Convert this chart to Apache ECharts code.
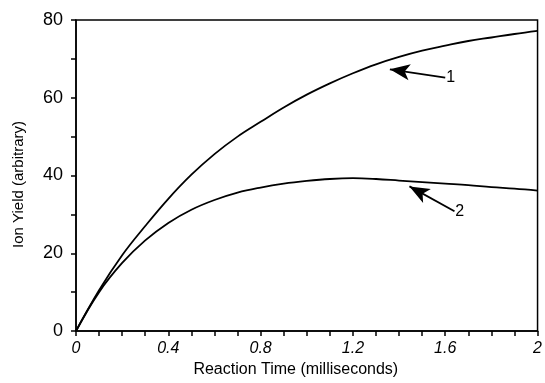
<!DOCTYPE html>
<html>
  <head>
    <meta charset="utf-8" />
    <title>Ion Yield</title>
    <style>
      * {
        margin: 0;
        padding: 0;
      }

      #chart-container {
        position: relative;
        width: 545px;
        height: 383px;
        overflow: hidden;
        background: #fff;
      }
    </style>
  </head>

  <body>
    <div id="chart-container"></div>
    <script src="https://cdn.jsdelivr.net/npm/echarts@6/dist/echarts.min.js"></script>
    <script>
      // reaction time (ms)
      var times = [0, 0.1, 0.2, 0.3, 0.4, 0.5, 0.6, 0.7, 0.8, 0.9, 1.0,
                   1.1, 1.2, 1.3, 1.4, 1.5, 1.6, 1.7, 1.8, 1.9, 2.0];
      var curve1 = [0, 10.5, 19.5, 27, 34, 40.2, 45.5, 50, 53.8, 57.5, 60.8,
                    63.7, 66.3, 68.6, 70.5, 72.1, 73.4, 74.6, 75.5, 76.4, 77.2];
      var curve2 = [0, 10, 17.5, 23.3, 27.8, 31.2, 33.7, 35.6, 36.9, 37.9, 38.6,
                    39.1, 39.3, 39.1, 38.7, 38.3, 37.9, 37.5, 37.0, 36.6, 36.1];

      // arrow annotations: [label, tail x, tail y, tip x, tip y]
      var arrow1 = ["1", 1.6, 65.2, 1.36, 67.3];
      var arrow2 = ["2", 1.64, 30.8, 1.445, 37.2];

      function pairs(xs, ys) {
        return xs.map(function (x, i) {
          return [x, ys[i]];
        });
      }

      function arrowLine(a) {
        return [
          { coord: [a[1], a[2]], label: { show: true, formatter: a[0] } },
          { coord: [a[3], a[4]] },
        ];
      }

      var font = "'Liberation Sans', Arial, sans-serif";

      var markStyle = {
        silent: true,
        symbol: ["none", "arrow"],
        symbolSize: [12, 20],
        lineStyle: { color: "#000", width: 1.8, type: "solid" },
        label: {
          position: "start",
          color: "#000",
          fontSize: 16,
          fontFamily: font,
          distance: 1,
        },
      };

      var dom = document.getElementById("chart-container");
      var myChart = echarts.init(dom, null, { renderer: "canvas" });

      var option = {
        animation: false,
        grid: {
          left: 76,
          right: 3,
          top: 20,
          bottom: 49,
          show: true,
          borderColor: "#000",
          borderWidth: 1.5,
        },
        xAxis: {
          type: "value",
          min: 0,
          max: 2,
          interval: 0.4,
          name: "Reaction Time (milliseconds)",
          nameLocation: "middle",
          nameGap: 31,
          nameTextStyle: { color: "#000", fontSize: 16, fontFamily: font, padding: [0, 22, 0, 0] },
          axisLine: { lineStyle: { color: "#000", width: 1.5 } },
          axisTick: { inside: false, length: 5, lineStyle: { color: "#000", width: 1.5 } },
          minorTick: { show: true, splitNumber: 4, length: 5, lineStyle: { color: "#000", width: 1.5 } },
          splitLine: { show: false },
          axisLabel: {
            color: "#000",
            fontSize: 16,
            fontStyle: "italic",
            fontFamily: font,
            margin: 10,
            formatter: function (v) {
              return String(Math.round(v * 10) / 10);
            },
          },
        },
        yAxis: {
          type: "value",
          min: 0,
          max: 80,
          interval: 20,
          name: "Ion Yield (arbitrary)",
          nameLocation: "middle",
          nameGap: 50,
          nameTextStyle: { color: "#000", fontSize: 15, fontFamily: font, padding: [0, 18, 0, 0] },
          axisLine: { show: true, lineStyle: { color: "#000", width: 1.5 } },
          axisTick: { show: true, inside: false, length: 5, lineStyle: { color: "#000", width: 1.5 } },
          minorTick: { show: true, splitNumber: 2, length: 5, lineStyle: { color: "#000", width: 1.5 } },
          splitLine: { show: false },
          axisLabel: { color: "#000", fontSize: 18, fontFamily: font, margin: 13 },
        },
        series: [
          {
            name: "1",
            type: "line",
            smooth: 0.4,
            symbol: "none",
            data: pairs(times, curve1),
            lineStyle: { color: "#000", width: 1.8 },
            markLine: Object.assign({ data: [arrowLine(arrow1)] }, markStyle),
          },
          {
            name: "2",
            type: "line",
            smooth: 0.4,
            symbol: "none",
            data: pairs(times, curve2),
            lineStyle: { color: "#000", width: 1.8 },
            markLine: Object.assign({ data: [arrowLine(arrow2)] }, markStyle),
          },
        ],
      };

      myChart.setOption(option);
    </script>
  </body>
</html>
